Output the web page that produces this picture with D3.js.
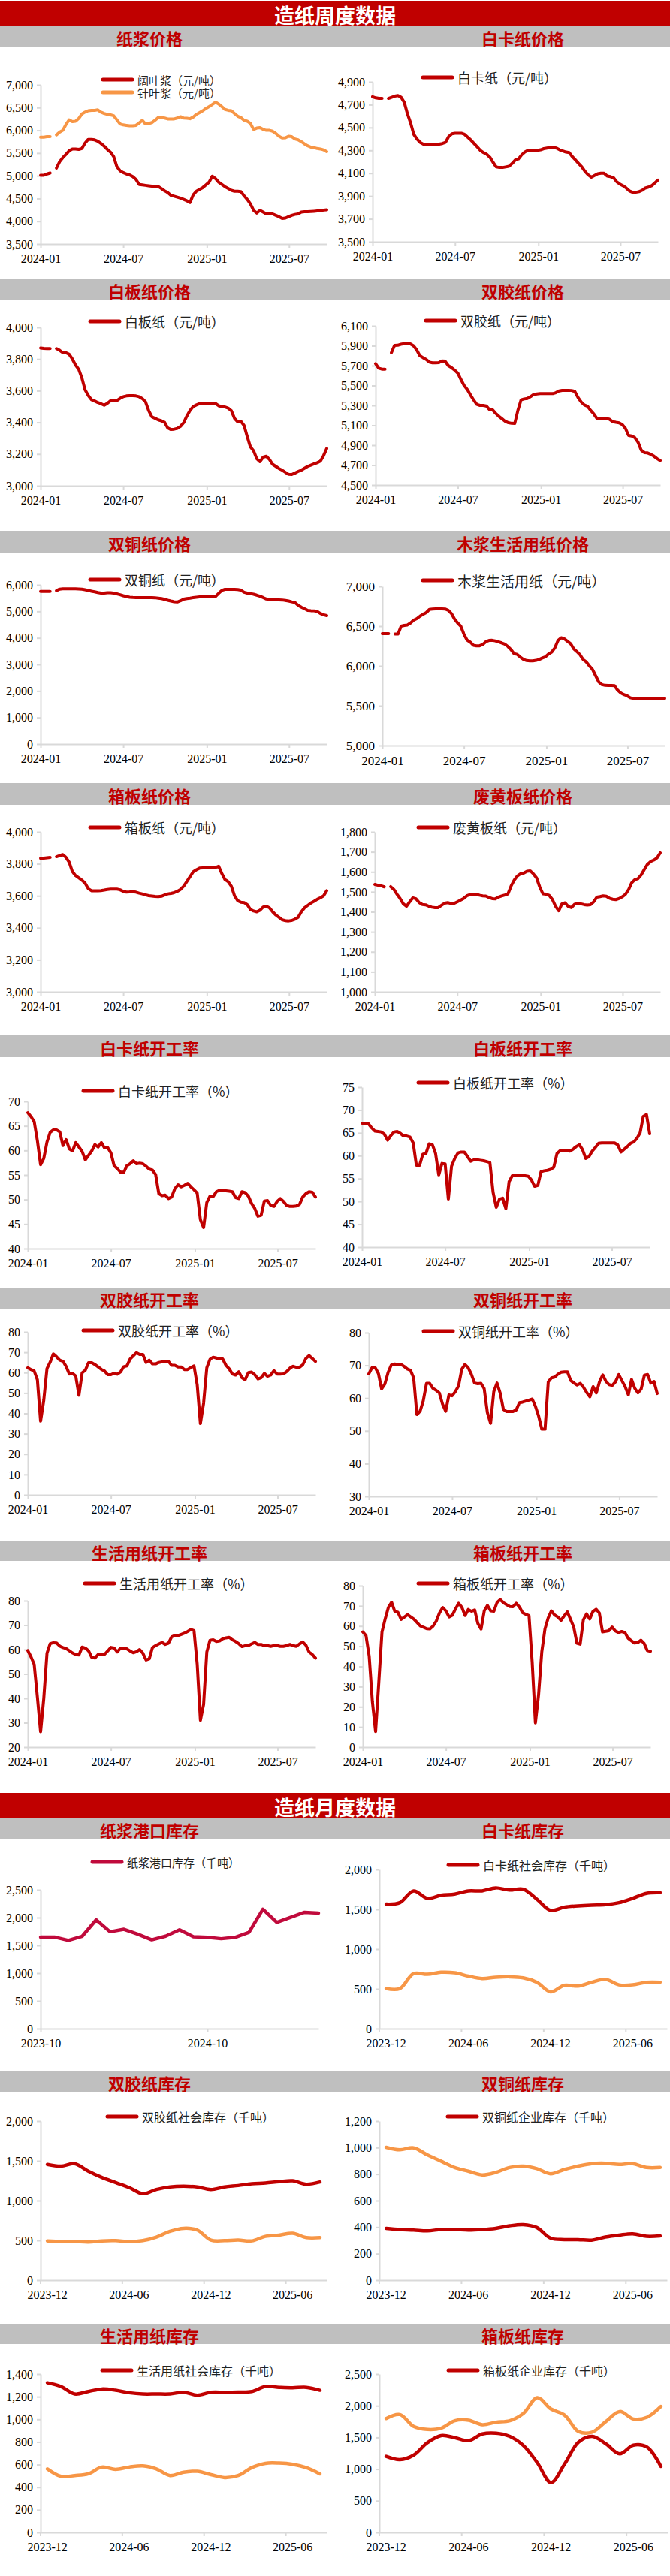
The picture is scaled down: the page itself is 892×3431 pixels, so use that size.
<!DOCTYPE html>
<html>
<head>
<meta charset="utf-8">
<script src="https://cdn.jsdelivr.net/npm/d3@7"></script>
<style>
body { margin: 0; background: #fff; }
svg { display: block; }
</style>
</head>
<body>
<svg></svg>
<script>
width = 892
height = 3431

RED = "#C00000"
ORANGE = "#F79646"
CRIMSON = "#C00A3C"
AXIS = "#D9D9D9"
CJK = "'Noto Sans CJK SC', sans-serif"
NUM = "'Liberation Serif', 'Times New Roman', serif"

// ---- categories ----
weeks = d3.timeMonday.range(new Date(2024, 0, 1), new Date(2025, 8, 23))
weekTicks = ["2024-01", "2024-07", "2025-01", "2025-07"]
portMonths = ["2023-10","2023-11","2023-12","2024-01","2024-02","2024-03","2024-04","2024-05","2024-06","2024-07",
  "2024-08","2024-09","2024-10","2024-11","2024-12","2025-01","2025-02","2025-03","2025-04","2025-05","2025-06"]
portTicks = ["2023-10", "2024-10"]
stockMonths = ["2023-12","2024-01","2024-02","2024-03","2024-04","2024-05","2024-06","2024-07","2024-08","2024-09",
  "2024-10","2024-11","2024-12","2025-01","2025-02","2025-03","2025-04","2025-05","2025-06","2025-07","2025-08"]
stockTicks = ["2023-12", "2024-06", "2024-12", "2025-06"]

// ---- weekly prices (元/吨) ----
hardwood = [5010,5010,5040,5060,null,5170,5310,5400,5470,5550,
  5590,5590,5580,5600,5720,5800,5800,5790,5760,5710,
  5650,5580,5520,5420,5200,5110,5070,5040,5020,4980,
  4920,4810,4800,4790,4780,4770,4770,4765,4720,4670,
  4630,4570,4550,4530,4510,4480,4450,4410,4580,4660,
  4700,4740,4800,4860,4990,4940,4860,4810,4760,4720,
  4680,4660,4660,4650,4560,4480,4380,4240,4180,4240,
  4200,4160,4160,4160,4130,4100,4060,4070,4100,4130,
  4150,4160,4200,4210,4210,4215,4220,4225,4230,4245,4250]
softwood = [5850,5850,5860,5860,null,5900,5960,6000,6130,6230,
  6190,6200,6260,6360,6400,6430,6440,6440,6450,6400,
  6370,6350,6340,6320,6230,6140,6120,6110,6100,6100,
  6110,6160,6220,6140,6150,6170,6220,6280,6280,6270,
  6250,6250,6250,6270,6300,6270,6265,6255,6290,6350,
  6390,6430,6480,6520,6570,6620,6580,6520,6460,6440,
  6430,6370,6310,6280,6220,6200,6150,6020,6050,6060,
  6020,6000,6000,5980,5930,5870,5830,5835,5870,5860,
  5810,5790,5750,5700,5660,5630,5620,5600,5590,5570,5530]
baikaPrice = [4770,4760,4755,4755,null,4755,4765,4775,4780,4765,
  4720,4620,4540,4440,4400,4370,4355,4350,4350,4350,
  4355,4355,4360,4370,4420,4445,4450,4450,4450,4440,
  4415,4390,4360,4330,4300,4280,4265,4240,4195,4155,
  4150,4150,4155,4160,4185,4215,4225,4260,4285,4300,
  4300,4300,4300,4305,4315,4320,4325,4325,4320,4305,
  4295,4285,4280,4245,4215,4185,4155,4115,4085,4065,
  4080,4095,4100,4100,4075,4070,4060,4025,4005,3990,
  3970,3945,3933,3933,3938,3950,3970,3978,3990,4015,4040]
baibanPrice = [3870,3867,3866,3866,null,3866,3855,3840,3840,3830,
  3800,3762,3735,3680,3605,3570,3543,3535,3525,3518,
  3508,3520,3537,3537,3537,3552,3562,3567,3569,3569,
  3567,3562,3550,3530,3475,3435,3426,3416,3410,3400,
  3365,3355,3357,3362,3375,3398,3440,3475,3500,3510,
  3518,3521,3521,3521,3521,3520,3505,3500,3497,3490,
  3474,3425,3403,3406,3380,3310,3245,3220,3170,3152,
  3180,3186,3165,3135,3122,3108,3098,3085,3072,3071,
  3080,3090,3098,3110,3122,3130,3138,3145,3155,3190,3235]
shuangjiaoPrice = [5720,5675,5665,5665,null,5830,5904,5905,5915,5920,
  5920,5918,5900,5858,5800,5780,5763,5735,5728,5728,
  5730,5748,5745,5700,5680,5655,5625,5560,5500,5460,
  5405,5355,5310,5300,5300,5295,5258,5255,5220,5190,
  5165,5140,5126,5120,5118,5250,5355,5365,5370,5388,
  5410,5415,5418,5418,5418,5418,5418,5428,5445,5451,
  5451,5451,5450,5440,5380,5335,5305,5292,5250,5215,
  5168,5168,5168,5168,5160,5136,5130,5125,5108,5070,
  4998,4993,4975,4930,4850,4825,4822,4808,4790,4765,4745]
shuangtongPrice = [5750,5750,5750,5750,null,5780,5840,5849,5849,5849,
  5849,5849,5845,5835,5815,5790,5760,5740,5710,5690,
  5690,5705,5705,5690,5660,5630,5590,5560,5535,5525,
  5520,5520,5520,5520,5520,5520,5515,5500,5485,5455,
  5420,5390,5365,5355,5400,5460,5485,5500,5518,5535,
  5546,5546,5546,5546,5546,5560,5680,5790,5830,5830,
  5830,5830,5825,5800,5720,5690,5670,5645,5610,5570,
  5520,5465,5440,5433,5433,5433,5430,5415,5390,5360,
  5335,5230,5160,5100,5040,5027,5020,5000,4920,4870,4838]
tissuePrice = [6405,6405,6405,null,6400,6400,6500,6510,6515,6540,
  6575,6594,6625,6650,6670,6710,6715,6717,6717,6717,
  6715,6700,6660,6590,6540,6500,6400,6325,6300,6260,
  6253,6253,6270,6305,6320,6322,6315,6303,6290,6275,
  6245,6205,6153,6145,6110,6082,6068,6064,6064,6070,
  6082,6100,6115,6150,6175,6228,6320,6354,6340,6310,
  6280,6215,6180,6140,6080,6050,6000,5955,5875,5797,
  5765,5756,5755,5755,5752,5695,5660,5640,5625,5600,
  5592,5592,5592,5592,5592,5592,5592,5592,5592,5592,5592]
xiangbanPrice = [3835,3836,3838,3840,null,3845,3852,3858,3840,3810,
  3752,3727,3713,3698,3680,3645,3632,3631,3631,3633,
  3636,3640,3642,3642,3642,3638,3628,3623,3624,3626,
  3623,3617,3612,3606,3601,3599,3596,3595,3597,3605,
  3612,3615,3620,3628,3640,3660,3690,3720,3750,3763,
  3773,3775,3775,3775,3775,3777,3785,3740,3702,3688,
  3660,3600,3570,3560,3558,3545,3515,3505,3500,3510,
  3530,3535,3525,3500,3480,3465,3450,3445,3443,3446,
  3454,3466,3500,3525,3540,3555,3566,3578,3588,3600,3632]
feihuangPrice = [1537,1533,1530,1525,null,1526,1512,1488,1466,1440,
  1428,1450,1470,1465,1446,1437,1435,1428,1423,1421,
  1421,1432,1443,1446,1442,1442,1450,1458,1467,1480,
  1486,1488,1488,1483,1480,1479,1472,1466,1465,1474,
  1479,1484,1490,1530,1560,1580,1591,1594,1603,1605,
  1590,1570,1525,1490,1488,1482,1462,1428,1405,1440,
  1445,1427,1421,1438,1442,1440,1436,1434,1436,1450,
  1473,1476,1480,1478,1468,1463,1461,1466,1475,1487,
  1510,1545,1561,1566,1585,1612,1638,1652,1659,1670,1695]

// ---- weekly operating rates (%) ----
baikaRate = [67.7,66.9,65.9,62.0,57.1,58.4,61.7,63.7,64.2,64.2,
  63.8,61.0,62.2,60.3,59.9,61.6,60.7,59.8,58.1,59.0,
  59.9,61.2,60.7,61.6,60.5,60.6,59.5,56.9,56.3,55.6,
  55.5,56.9,57.3,57.9,57.3,57.4,57.3,56.8,56.2,56.0,
  55.1,51.2,50.8,50.9,50.2,50.5,52.2,53.0,52.6,52.9,
  53.3,52.6,52.0,51.3,45.9,44.3,49.4,50.7,50.6,51.6,
  51.9,51.9,51.8,51.7,51.6,50.4,50.2,51.6,51.4,50.7,
  49.2,48.2,46.6,46.8,49.7,49.8,48.8,48.6,49.6,50.2,
  49.6,48.8,48.6,48.6,48.7,49.0,50.5,51.2,51.6,51.5,50.5]
baibanRate = [67.1,67.1,67.0,66.1,65.4,65.3,65.2,64.7,63.4,64.4,
  65.2,65.3,64.9,64.3,64.3,64.1,62.8,57.9,57.9,60.3,
  60.5,62.6,62.4,60.5,55.8,58.3,58.2,50.5,57.7,59.4,
  60.6,60.8,60.8,59.8,58.8,59.1,59.1,59.0,58.9,58.7,
  58.5,52.0,48.7,50.5,50.7,48.4,54.3,55.6,55.6,55.6,
  55.6,55.6,55.5,54.7,53.3,53.5,56.5,56.7,56.8,57.0,
  57.5,60.5,61.1,61.2,61.1,61.0,61.4,62.0,62.4,61.3,
  59.4,59.8,61.0,61.8,62.7,62.8,62.8,62.8,62.8,62.8,
  62.4,60.8,61.4,62.0,62.7,63.0,63.8,65.0,68.6,69.0,64.8]
shuangjiaoRate = [62.4,61.5,60.8,56.5,36.2,46.5,62.0,65.2,69.2,67.8,
  66.1,65.6,63.0,59.3,59.6,58.3,48.9,59.9,61.2,64.9,
  64.9,64.0,62.8,61.6,60.8,59.0,59.0,59.7,59.2,60.3,
  62.9,63.3,66.7,68.3,69.8,68.9,68.9,65.0,66.1,64.3,
  64.3,65.0,65.3,65.5,65.5,63.6,63.6,62.8,62.8,61.5,
  61.5,62.5,63.3,54.0,35.0,45.0,62.4,66.6,67.6,67.2,
  66.7,66.7,63.6,61.9,59.3,58.8,60.4,57.5,56.5,60.0,
  60.3,59.0,56.9,57.5,59.6,58.2,58.8,61.0,59.3,59.3,
  59.4,60.5,62.2,63.1,62.6,62.6,63.8,67.0,68.4,67.0,65.5]
shuangtongRate = [67.4,69.3,69.3,67.5,62.8,64.3,67.8,70.1,70.4,70.3,
  70.3,69.7,68.9,68.5,66.2,55.0,56.0,59.2,64.5,64.5,
  63.0,62.4,61.6,58.2,56.0,61.0,60.7,62.0,63.7,68.8,
  70.3,69.3,67.3,64.6,64.4,64.5,62.9,55.6,52.3,62.0,
  64.6,61.5,56.6,55.9,55.9,55.9,56.4,58.6,58.8,59.1,
  59.4,59.7,57.5,54.5,50.5,50.5,65.0,66.2,66.4,67.3,
  67.9,68.0,68.0,65.4,64.6,64.0,64.5,63.3,61.7,60.4,
  63.5,61.6,65.0,67.1,65.1,64.1,63.9,65.0,67.2,65.3,
  63.5,61.0,65.7,63.0,61.6,62.8,67.0,67.2,64.6,65.1,61.4]
tissueRate = [59.6,57.0,53.9,40.5,26.3,40.0,58.5,62.4,62.8,62.7,
  61.4,60.8,60.4,59.5,58.6,57.9,57.8,61.0,60.6,59.5,
  56.8,56.5,58.0,58.0,58.0,59.4,60.9,60.6,59.0,60.6,
  60.6,60.3,59.4,58.7,59.1,60.0,58.5,55.7,56.2,60.8,
  61.6,62.3,62.9,62.1,62.6,65.2,65.7,65.7,66.2,66.7,
  67.4,68.2,67.7,54.0,31.0,37.5,59.0,63.8,64.0,63.3,
  63.5,64.4,64.8,65.0,64.0,63.3,62.4,61.2,61.6,61.6,
  62.3,62.9,62.1,62.1,61.6,61.6,61.3,61.6,61.6,61.3,
  61.3,61.6,62.1,61.6,61.3,62.3,63.1,61.8,59.0,58.0,56.5]
xiangbanRate = [57.1,55.3,45.0,22.5,7.7,32.0,57.0,63.5,69.2,71.8,
  67.3,66.8,63.3,64.4,65.6,64.5,63.4,61.7,60.0,59.4,
  58.7,58.6,60.0,62.5,66.5,69.2,67.5,64.5,65.3,68.5,
  71.3,69.3,65.2,68.2,67.3,68.0,61.3,58.5,67.5,70.2,
  67.5,67.3,71.7,73.1,71.6,70.6,69.7,69.6,71.3,69.5,
  66.6,65.8,65.2,42.0,12.0,26.0,47.2,58.6,64.0,67.5,
  65.5,64.5,62.8,65.0,67.0,63.3,59.5,51.5,51.0,63.0,
  66.0,63.5,67.2,68.3,66.5,57.1,57.4,57.7,59.5,57.6,
  56.8,57.3,56.8,54.0,52.8,51.6,51.8,53.0,51.5,47.9,47.5]

// ---- monthly inventories (千吨) ----
portStock = [1650,1650,1590,1665,1960,1745,1790,1700,1600,1665,1780,1655,1645,1620,1645,1735,2150,1915,2005,2095,2080]
baikaSocial = [1565,1584,1732,1638,1676,1691,1732,1732,1770,1742,1754,1628,1487,1527,1543,1553,1559,1584,1638,1701,1710]
baikaOther = [504,504,693,683,709,702,661,630,646,652,639,583,463,545,535,583,620,551,551,583,583]
shuangjiaoSocial = [1455,1433,1465,1370,1291,1228,1165,1087,1140,1172,1181,1172,1140,1172,1190,1212,1222,1238,1250,1206,1234]
shuangjiaoOther = [494,488,488,479,494,497,485,497,542,614,652,630,504,497,504,494,551,567,589,535,535]
shuangtongEnt = [391,382,378,372,382,382,378,382,391,410,419,397,317,306,306,302,325,340,350,331,334]
shuangtongOther = [1002,983,998,945,898,850,822,794,813,850,860,841,803,835,860,879,882,873,879,850,850]
tissueSocial = [1323,1290,1224,1246,1268,1257,1235,1224,1224,1224,1239,1213,1239,1239,1241,1246,1290,1283,1279,1283,1257]
tissueOther = [562,496,503,518,578,558,578,589,562,503,533,540,511,485,503,573,611,613,602,573,518]
xiangbanEnt = [1201,1150,1220,1417,1528,1496,1449,1555,1567,1516,1370,1102,787,1083,1425,1516,1398,1240,1378,1346,1043]
xiangbanOther = [1799,1862,1673,1626,1646,1764,1772,1701,1740,1764,1882,2126,1949,1850,1594,1583,1752,1909,1791,1819,1988]

// ---- page layout ----
headers = [
  {y: 1, h: 34, text: "造纸周度数据"},
  {y: 2388, h: 34, text: "造纸月度数据"}
]
bands = [
  {y: 35, h: 28, left: "纸浆价格", right: "白卡纸价格"},
  {y: 371, h: 29, left: "白板纸价格", right: "双胶纸价格"},
  {y: 707, h: 29, left: "双铜纸价格", right: "木浆生活用纸价格"},
  {y: 1043, h: 29, left: "箱板纸价格", right: "废黄板纸价格"},
  {y: 1379, h: 29, left: "白卡纸开工率", right: "白板纸开工率"},
  {y: 1715, h: 28, left: "双胶纸开工率", right: "双铜纸开工率"},
  {y: 2052, h: 27, left: "生活用纸开工率", right: "箱板纸开工率"},
  {y: 2422, h: 27, left: "纸浆港口库存", right: "白卡纸库存"},
  {y: 2759, h: 27, left: "双胶纸库存", right: "双铜纸库存"},
  {y: 3095, h: 27, left: "生活用纸库存", right: "箱板纸库存"}
]

charts = [
  {x: "week", l: 54, r: 435, t: 113, b: 325, y: [3500, 7000], step: 500, lx: 135, ly: 106, lfs: 15,
   series: [{v: hardwood, c: RED, label: "阔叶浆（元/吨）"}, {v: softwood, c: ORANGE, label: "针叶浆（元/吨）"}]},
  {x: "week", l: 496, r: 876, t: 109, b: 322, y: [3500, 4900], step: 200, lx: 561, ly: 103, lfs: 18,
   series: [{v: baikaPrice, c: RED, label: "白卡纸（元/吨）"}]},
  {x: "week", l: 54, r: 435, t: 436, b: 647, y: [3000, 4000], step: 200, lx: 118, ly: 428, lfs: 18,
   series: [{v: baibanPrice, c: RED, label: "白板纸（元/吨）"}]},
  {x: "week", l: 500, r: 879, t: 434, b: 646, y: [4500, 6100], step: 200, lx: 565, ly: 427, lfs: 18,
   series: [{v: shuangjiaoPrice, c: RED, label: "双胶纸（元/吨）"}]},
  {x: "week", l: 54, r: 435, t: 779, b: 991, y: [0, 6000], step: 1000, lx: 118, ly: 772, lfs: 18,
   series: [{v: shuangtongPrice, c: RED, label: "双铜纸（元/吨）"}]},
  {x: "week", l: 509, r: 885, t: 781, b: 993, y: [5000, 7000], step: 500, lx: 561, ly: 773, lfs: 19, fs: 17,
   series: [{v: tissuePrice, c: RED, label: "木浆生活用纸（元/吨）"}]},
  {x: "week", l: 54, r: 435, t: 1108, b: 1321, y: [3000, 4000], step: 200, lx: 118, ly: 1102, lfs: 18,
   series: [{v: xiangbanPrice, c: RED, label: "箱板纸（元/吨）"}]},
  {x: "week", l: 499, r: 879, t: 1108, b: 1321, y: [1000, 1800], step: 100, lx: 555, ly: 1102, lfs: 18,
   series: [{v: feihuangPrice, c: RED, label: "废黄板纸（元/吨）"}]},
  {x: "week", l: 37, r: 420, t: 1467, b: 1663, y: [40, 70], step: 5, lx: 109, ly: 1453, lfs: 18,
   series: [{v: baikaRate, c: RED, label: "白卡纸开工率（%）"}]},
  {x: "week", l: 482, r: 865, t: 1448, b: 1661, y: [40, 75], step: 5, lx: 555, ly: 1442, lfs: 18,
   series: [{v: baibanRate, c: RED, label: "白板纸开工率（%）"}]},
  {x: "week", l: 37, r: 420, t: 1774, b: 1991, y: [0, 80], step: 10, lx: 109, ly: 1772, lfs: 18,
   series: [{v: shuangjiaoRate, c: RED, label: "双胶纸开工率（%）"}]},
  {x: "week", l: 491, r: 875, t: 1775, b: 1993, y: [30, 80], step: 10, lx: 562, ly: 1773, lfs: 18,
   series: [{v: shuangtongRate, c: RED, label: "双铜纸开工率（%）"}]},
  {x: "week", l: 37, r: 420, t: 2132, b: 2327, y: [20, 80], step: 10, lx: 111, ly: 2109, lfs: 18,
   series: [{v: tissueRate, c: RED, label: "生活用纸开工率（%）"}]},
  {x: "week", l: 483, r: 866, t: 2112, b: 2327, y: [0, 80], step: 10, lx: 555, ly: 2109, lfs: 18,
   series: [{v: xiangbanRate, c: RED, label: "箱板纸开工率（%）"}]},
  {x: "point", l: 54, r: 424, t: 2517, b: 2702, y: [0, 2500], step: 500, lx: 121, ly: 2480, lfs: 15,
   series: [{v: portStock, c: CRIMSON, label: "纸浆港口库存（千吨）"}]},
  {x: "band", l: 505, r: 888, t: 2490, b: 2702, y: [0, 2000], step: 500, lx: 595, ly: 2484, lfs: 16,
   series: [{v: baikaSocial, c: RED, label: "白卡纸社会库存（千吨）"}, {v: baikaOther, c: ORANGE}]},
  {x: "band", l: 54, r: 435, t: 2825, b: 3037, y: [0, 2000], step: 500, lx: 141, ly: 2819, lfs: 16,
   series: [{v: shuangjiaoSocial, c: RED, label: "双胶纸社会库存（千吨）"}, {v: shuangjiaoOther, c: ORANGE}]},
  {x: "band", l: 505, r: 888, t: 2825, b: 3037, y: [0, 1200], step: 200, lx: 594, ly: 2819, lfs: 16,
   series: [{v: shuangtongEnt, c: RED, label: "双铜纸企业库存（千吨）"}, {v: shuangtongOther, c: ORANGE}]},
  {x: "band", l: 54, r: 435, t: 3162, b: 3373, y: [0, 1400], step: 200, lx: 134, ly: 3157, lfs: 16,
   series: [{v: tissueSocial, c: RED, label: "生活用纸社会库存（千吨）"}, {v: tissueOther, c: ORANGE}]},
  {x: "band", l: 505, r: 889, t: 3162, b: 3373, y: [0, 2500], step: 500, lx: 595, ly: 3157, lfs: 16,
   series: [{v: xiangbanEnt, c: RED, label: "箱板纸企业库存（千吨）"}, {v: xiangbanOther, c: ORANGE}]}
]

svg = d3.select("svg")
    .attr("width", width)
    .attr("height", height)
    .attr("viewBox", [0, 0, width, height])

headers.forEach(h => {
  svg.append("rect").attr("x", 0).attr("y", h.y).attr("width", width).attr("height", h.h).attr("fill", RED)
  svg.append("text")
      .attr("x", width / 2).attr("y", h.y + h.h / 2 + 1)
      .attr("text-anchor", "middle").attr("dominant-baseline", "central")
      .attr("fill", "#fff").attr("font-family", CJK).attr("font-weight", "bold").attr("font-size", 27)
      .text(h.text)
})

bands.forEach(b => {
  svg.append("rect").attr("x", 0).attr("y", b.y).attr("width", width).attr("height", b.h).attr("fill", "#BFBFBF")
  ;[[199, b.left], [696, b.right]].forEach(([cx, t]) => {
    svg.append("text")
        .attr("x", cx).attr("y", b.y + b.h / 2 + 1)
        .attr("text-anchor", "middle").attr("dominant-baseline", "central")
        .attr("fill", RED).attr("font-family", CJK).attr("font-weight", "bold").attr("font-size", 22)
        .text(t)
  })
})

function styleAxis(sel, fs) {
  sel.select(".domain").attr("stroke", AXIS).attr("stroke-width", 2)
  sel.selectAll(".tick line").attr("stroke", AXIS).attr("stroke-width", 2)
  sel.selectAll(".tick text").attr("fill", "#000").attr("font-family", NUM).attr("font-size", fs)
}

function draw(c) {
  const g = svg.append("g")
  const fs = c.fs || 16
  const y = d3.scaleLinear().domain(c.y).range([c.b, c.t])
  const parseMonth = d3.timeParse("%Y-%m")
  let xs

  g.append("g")
      .attr("transform", `translate(${c.l},0)`)
      .call(d3.axisLeft(y)
        .tickValues(d3.range(c.y[0], c.y[1] + c.step / 2, c.step))
        .tickFormat(d3.format(","))
        .tickSize(5).tickSizeOuter(0).tickPadding(5))
      .call(styleAxis, fs)

  const xg = g.append("g").attr("transform", `translate(0,${c.b})`)
  if (c.x === "week") {
    const x = d3.scaleTime().domain(d3.extent(weeks)).range([c.l, c.r])
    xs = weeks.map(d => x(d))
    xg.call(d3.axisBottom(x)
        .tickValues(weekTicks.map(parseMonth))
        .tickFormat(d3.timeFormat("%Y-%m"))
        .tickSize(5).tickSizeOuter(0).tickPadding(9))
  } else if (c.x === "point") {
    const x = d3.scalePoint().domain(portMonths).range([c.l, c.r])
    xs = portMonths.map(d => x(d))
    xg.call(d3.axisBottom(x).tickValues(portTicks).tickSize(5).tickSizeOuter(0).tickPadding(9))
  } else {
    const x = d3.scaleBand().domain(stockMonths).range([c.l, c.r])
    const half = x.bandwidth() / 2
    xs = stockMonths.map(d => x(d) + half)
    xg.call(d3.axisBottom(x).tickValues(stockTicks).tickSize(5).tickSizeOuter(0).tickPadding(9))
    xg.selectAll(".tick line").attr("x1", -half).attr("x2", -half)
  }
  xg.call(styleAxis, fs)

  const line = d3.line()
      .defined(v => v != null)
      .x((v, i) => xs[i])
      .y(v => y(v))
      .curve(c.x === "band" ? d3.curveCatmullRom : d3.curveLinear)

  c.series.slice().reverse().forEach(s => {
    g.append("path")
        .attr("d", line(s.v))
        .attr("fill", "none")
        .attr("stroke", s.c)
        .attr("stroke-width", c.x === "week" ? 4 : 4.5)
        .attr("stroke-linejoin", "round")
        .attr("stroke-linecap", "round")
  })

  c.series.filter(s => s.label).forEach((s, k) => {
    const ly = c.ly + k * (c.lfs + 2)
    g.append("line")
        .attr("x1", c.lx + 2).attr("x2", c.lx + 41).attr("y1", ly).attr("y2", ly)
        .attr("stroke", s.c).attr("stroke-width", 5).attr("stroke-linecap", "round")
    g.append("text")
        .attr("x", c.lx + 48).attr("y", ly)
        .attr("dominant-baseline", "central")
        .attr("fill", "#222").attr("font-family", CJK).attr("font-size", c.lfs)
        .text(s.label)
  })
}

charts.forEach(draw)
</script>
</body>
</html>
